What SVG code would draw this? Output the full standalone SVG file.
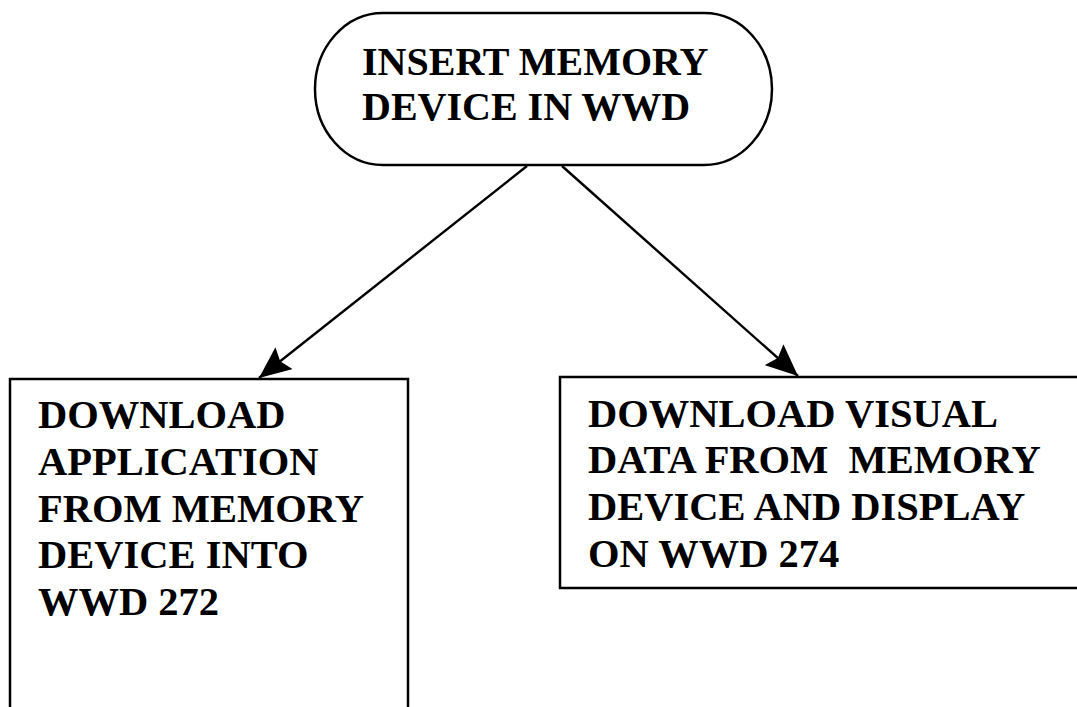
<svg xmlns="http://www.w3.org/2000/svg" width="1077" height="707" viewBox="0 0 1077 707">
<style>
.shape{fill:#fff;stroke:#000;stroke-width:2.5}
.t{font-family:"Liberation Serif","Times New Roman",serif;font-weight:bold;font-size:40.5px;fill:#000}
.conn{stroke:#000;stroke-width:2.4;fill:none}
</style>
<defs>
<marker id="ah" viewBox="0 0 32 28" refX="32" refY="14" markerWidth="32" markerHeight="28" markerUnits="userSpaceOnUse" orient="auto">
<path d="M0,0 L32,14 L0,28 L5,14 Z" fill="#000"/>
</marker>
</defs>
<rect width="1077" height="707" fill="#fff"/>
<g id="start">
<rect class="shape" x="315" y="13" width="457" height="152" rx="68" ry="76"/>
<text class="t" style="font-size:40px"><tspan x="362" y="75">INSERT MEMORY</tspan><tspan x="362" y="120">DEVICE IN WWD</tspan></text>
</g>
<g id="box272">
<path class="shape" d="M10,712 L10,379 L408,379 L408,712"/>
<text class="t"><tspan x="38" y="428">DOWNLOAD</tspan><tspan x="38" y="475">APPLICATION</tspan><tspan x="38" y="522">FROM MEMORY</tspan><tspan x="38" y="568">DEVICE INTO</tspan><tspan x="38" y="615">WWD 272</tspan></text>
</g>
<g id="box274">
<path class="shape" d="M1082,377 L560,377 L560,588 L1082,588"/>
<text class="t" xml:space="preserve"><tspan x="588" y="427">DOWNLOAD VISUAL</tspan><tspan x="588" y="473">DATA FROM  MEMORY</tspan><tspan x="588" y="520">DEVICE AND DISPLAY</tspan><tspan x="588" y="567">ON WWD 274</tspan></text>
</g>
<g id="connectors">
<line class="conn" x1="527" y1="166" x2="259" y2="378" marker-end="url(#ah)"/>
<line class="conn" x1="562" y1="166" x2="798" y2="376" marker-end="url(#ah)"/>
</g>
</svg>
